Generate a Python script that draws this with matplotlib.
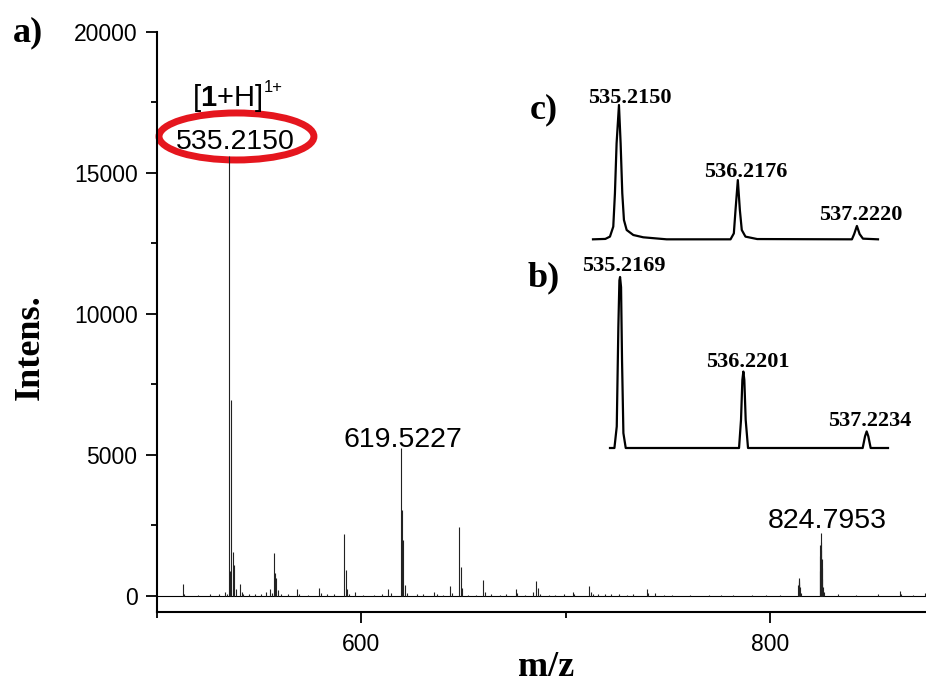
import numpy as np
import matplotlib
matplotlib.use('Agg')
import matplotlib.pyplot as plt
from matplotlib.patches import Ellipse
from matplotlib.ticker import MultipleLocator

plt.rcParams['font.family'] = 'Liberation Sans'
plt.rcParams['mathtext.fontset'] = 'custom'
plt.rcParams['mathtext.rm'] = 'Liberation Sans'
plt.rcParams['mathtext.bf'] = 'Liberation Sans:bold'

# main spectrum: centroid peaks (m/z, intensity)
mz = [512.6, 513.2, 520.0, 526.0, 530.5, 533.3, 534.2, 535.2150, 535.6, 536.2, 537.2, 537.5, 538.5,
      540.7, 541.5, 542.0, 545.0, 548.0, 551.0, 553.2, 555.3, 556.2, 557.1, 557.8,
      558.4, 559.2, 560.5, 564.0, 568.7, 569.5, 574.0, 579.1, 580.1, 583.0,
      586.6, 591.5, 592.3, 593.2, 594.0, 596.7, 601.0, 606.0, 610.0, 613.2, 614.3,
      619.5227, 619.8, 620.5, 621.5, 622.3, 627.0, 630.0, 635.4, 637.0, 640.0, 643.5,
      644.3, 647.8, 648.6, 649.5, 652.0, 656.0, 659.5, 660.3, 663.6, 668.0, 671.0,
      675.5, 676.2, 680.0, 683.8, 685.4, 686.4, 687.2, 691.6, 695.0, 699.0, 703.5,
      704.3, 711.6, 712.5, 713.5, 716.0, 719.0, 722.0, 726.0, 730.0, 733.0,
      739.7, 740.5, 743.8, 748.0, 752.0, 761.0, 770.0, 776.0, 782.0, 791.0, 798.0, 805.0,
      813.8, 814.0, 814.1, 814.3, 814.4, 814.7, 815.2, 824.4, 824.5, 824.6, 824.7953, 824.9,
      825.0, 825.2, 825.3, 825.6, 826.0, 826.4, 833.4, 842.0, 853.0, 863.6, 864.2, 870.0, 875.8]
intens = [425, 80, 40, 50, 60, 150, 80, 15600, 900, 6950, 1570, 1100, 250,
          420, 150, 80, 50, 60, 60, 150, 250, 120, 1510, 800,
          630, 200, 80, 50, 230, 80, 40, 270, 100, 50,
          70, 2190, 920, 230, 80, 140, 40, 40, 50, 230, 100,
          5240, 3050, 1990, 400, 100, 50, 50, 150, 60, 40, 355,
          120, 2435, 1040, 270, 40, 40, 570, 150, 60, 40, 50,
          235, 90, 40, 150, 530, 295, 80, 40, 40, 50, 140,
          60, 355, 150, 80, 60, 50, 60, 50, 40, 50,
          250, 90, 120, 40, 30, 40, 30, 40, 30, 40, 30, 40,
          400, 630, 560, 500, 420, 330, 100, 900, 1400, 1800, 2220, 1900,
          1630, 1300, 1000, 600, 300, 150, 60, 40, 60, 175, 80, 30, 90]
mz_range = [500, 880]

labels_main = ['535.2150', '619.5227', '824.7953']
labels_main_mz = [535.2150, 619.5227, 824.7953]
labels_main_int = [15600, 5240, 2220]

# inset c) profile (m/z, relative intensity)
c_mz = [534.996, 535.100, 535.139, 535.167, 535.181, 535.195, 535.215, 535.229, 535.243, 535.257,
        535.280, 535.336, 535.420, 535.617, 536.156, 536.184, 536.198, 536.2176, 536.235,
        536.251, 536.282, 536.381, 537.180, 537.199, 537.222, 537.245, 537.273, 537.40]
c_int = [0.5, 0.8, 2.5, 9.9, 34.6, 71.6, 100, 71.6, 34.6, 14.8,
         7.4, 3.7, 2.0, 0.5, 0.5, 4.9, 22, 44.4, 22,
         7.4, 2.5, 0.7, 0.5, 4.4, 10.4, 4.4, 1.0, 0.5]
c_labels = ['535.2150', '536.2176', '537.2220']
c_peak_mz = [535.2150, 536.2176, 537.2220]
c_peak_int = [100, 44.4, 10.4]

# inset b) profile
b_mz = [535.135, 535.171, 535.190, 535.203, 535.2115, 535.2169, 535.225, 535.233, 535.244,
        535.263, 536.185, 536.201, 536.212, 536.2201, 536.228, 536.239, 536.258,
        537.191, 537.210, 537.2234, 537.237, 537.256, 537.397]
b_int = [0, 0, 12.6, 70.9, 98, 100, 94, 51, 8.7,
         0, 0, 16.5, 39.8, 44.7, 39.8, 16.5, 0,
         0, 6.8, 9.7, 6.8, 0, 0]
b_labels = ['535.2169', '536.2201', '537.2234']
b_peak_mz = [535.2169, 536.2201, 537.2234]
b_peak_int = [100, 44.7, 9.7]

fig = plt.figure(figsize=(9.26, 6.84), dpi=100)
ax = fig.add_axes([0.1695, 0.1053, 0.8305, 0.848])

ax.plot(mz_range, [0, 0], color='black', lw=0.8)
ax.vlines(mz, 0, intens, color='#222222', lw=0.8)

ax.set_xlim(500, 876.3)
ax.set_ylim(-570, 20000)
for s in ['top', 'right']:
    ax.spines[s].set_visible(False)
for s in ['left', 'bottom']:
    ax.spines[s].set_linewidth(1.5)
ax.xaxis.set_major_locator(MultipleLocator(200))
ax.xaxis.set_minor_locator(MultipleLocator(100))
ax.yaxis.set_major_locator(MultipleLocator(5000))
ax.yaxis.set_minor_locator(MultipleLocator(2500))
ax.tick_params(which='major', direction='out', length=8, width=1.3, labelsize=16.5, pad=6)
ax.tick_params(which='minor', direction='out', length=4.5, width=1.3)
ax.tick_params(axis='x', which='major', pad=7)

# peak labels
offs = [(4.8, 5), (1.5, 1), (5, 4)]
for lab, x, y, o in zip(labels_main, labels_main_mz, labels_main_int, offs):
    ax.annotate(lab, (x, y), xytext=o, textcoords='offset points',
                ha='center', va='baseline', fontsize=20.5)

ion = ax.annotate(r'[$\mathbf{1}$+H]', (labels_main_mz[0], labels_main_int[0]),
                  xytext=(-1, 36), textcoords='offset points',
                  ha='center', va='baseline', fontsize=21)
ax.annotate('1+', (1, 1), xycoords=ion, xytext=(1, 1.5), textcoords='offset points',
            ha='left', va='top', fontsize=12)

ax.add_patch(Ellipse((538.9, 16293), 75.8, 1667, fill=False,
                     edgecolor='#e5161e', lw=5, clip_on=False))

serif = 'Liberation Serif'
fig.text(30 / 926, 1 - 347 / 684, 'Intens.', rotation=90, ha='center', va='center',
         family=serif, weight='bold', fontsize=26)
fig.text(546 / 926, 1 - 668 / 684, 'm/z', ha='center', va='center',
         family=serif, weight='bold', fontsize=26)
fig.text(28 / 926, 1 - 33 / 684, 'a)', ha='center', va='center',
         family=serif, weight='bold', fontsize=26)
fig.text(544 / 926, 1 - 110 / 684, 'c)', ha='center', va='center',
         family=serif, weight='bold', fontsize=26)
fig.text(544 / 926, 1 - 278 / 684, 'b)', ha='center', va='center',
         family=serif, weight='bold', fontsize=26)

# inset c
axc = fig.add_axes([593 / 926, 1 - 240 / 684, 285 / 926, 135 / 684])
axc.plot(c_mz, c_int, color='black', lw=1.6, clip_on=False)
axc.set_xlim(534.996, 537.40)
axc.set_ylim(0, 100)
axc.axis('off')
for lab, x, y, o in zip(c_labels, c_peak_mz, c_peak_int, [(8, 1.5), (6, 2.2), (2.5, 4.2)]):
    axc.annotate(lab, (x, y), xytext=o, textcoords='offset points', ha='center',
                 va='baseline', family=serif, weight='bold', fontsize=16)

# inset b
axb = fig.add_axes([610 / 926, 1 - 448 / 684, 278 / 926, 171 / 684])
axb.plot(b_mz, b_int, color='black', lw=1.6, clip_on=False)
axb.set_xlim(535.135, 537.397)
axb.set_ylim(0, 100)
axb.axis('off')
for lab, x, y, o in zip(b_labels, b_peak_mz, b_peak_int, [(2.5, 4.5), (3, 3), (2.5, 4)]):
    axb.annotate(lab, (x, y), xytext=o, textcoords='offset points', ha='center',
                 va='baseline', family=serif, weight='bold', fontsize=16)

fig.savefig('out.png', dpi=100)
